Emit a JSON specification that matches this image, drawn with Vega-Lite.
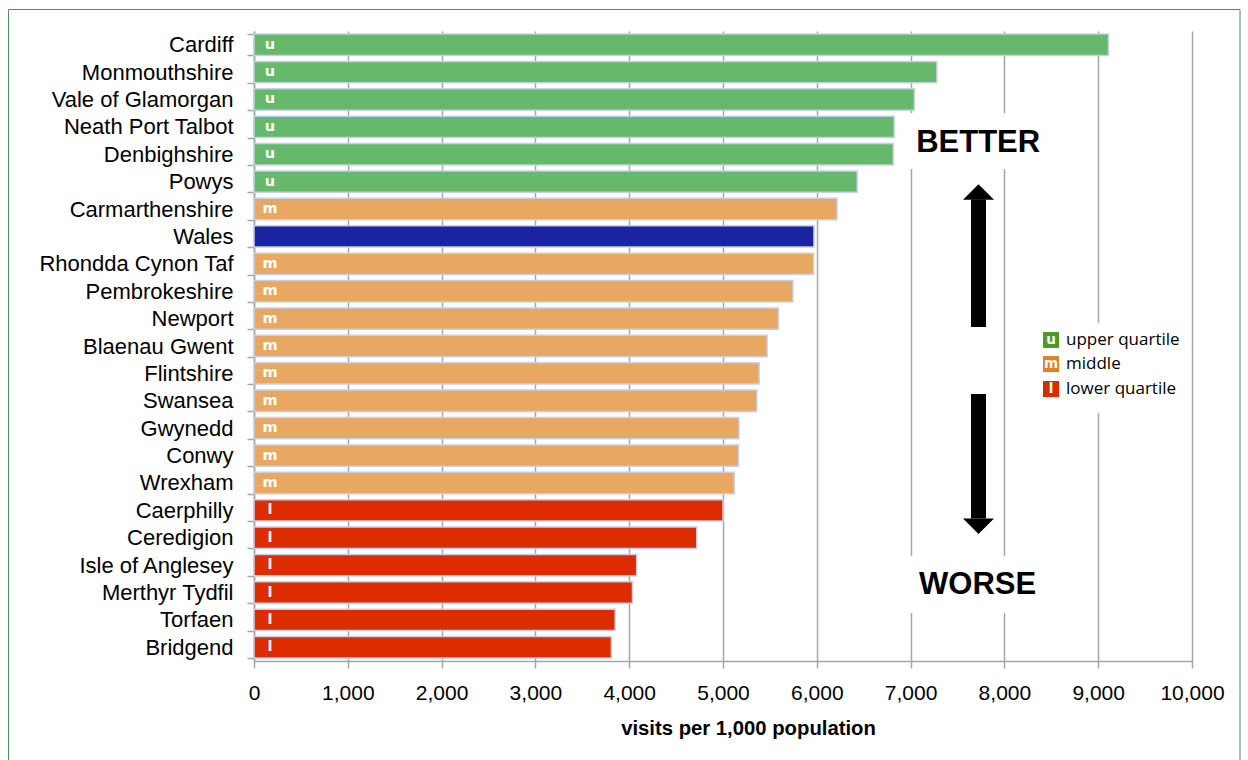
{
  "$schema": "https://vega.github.io/schema/vega-lite/v6.json",
  "width": 938,
  "height": 630,
  "padding": {"left": 8, "top": 8, "right": 0, "bottom": 0},
  "background": "white",
  "config": {
    "font": "Liberation Sans",
    "view": {"stroke": null},
    "axisX": {
      "grid": true,
      "gridColor": "#a6a6a6",
      "gridWidth": 1.5,
      "labelFont": "Liberation Sans",
      "labelFontSize": 21,
      "labelColor": "#000000",
      "labelPadding": 14,
      "labelFlush": false,
      "tickSize": 7,
      "tickColor": "#a6a6a6",
      "tickWidth": 1.5,
      "domainColor": "#a6a6a6",
      "domainWidth": 1.5,
      "titleFont": "Liberation Sans",
      "titleFontSize": 20.3,
      "titleFontWeight": "bold",
      "titleColor": "#000000",
      "titlePadding": 15
    },
    "axisY": {
      "grid": false,
      "labelFont": "Liberation Sans",
      "labelFontSize": 22,
      "labelColor": "#000000",
      "labelPadding": 14,
      "labelLimit": 400,
      "tickSize": 7,
      "tickColor": "#a6a6a6",
      "tickWidth": 1.5,
      "tickBand": "extent",
      "domainColor": "#a6a6a6",
      "domainWidth": 1.5,
      "title": null
    }
  },
  "datasets": {
    "rates": [
      {"area": "Cardiff", "visits": 9110, "q": "u"},
      {"area": "Monmouthshire", "visits": 7280, "q": "u"},
      {"area": "Vale of Glamorgan", "visits": 7040, "q": "u"},
      {"area": "Neath Port Talbot", "visits": 6825, "q": "u"},
      {"area": "Denbighshire", "visits": 6815, "q": "u"},
      {"area": "Powys", "visits": 6430, "q": "u"},
      {"area": "Carmarthenshire", "visits": 6215, "q": "m"},
      {"area": "Wales", "visits": 5970, "q": "w"},
      {"area": "Rhondda Cynon Taf", "visits": 5965, "q": "m"},
      {"area": "Pembrokeshire", "visits": 5745, "q": "m"},
      {"area": "Newport", "visits": 5590, "q": "m"},
      {"area": "Blaenau Gwent", "visits": 5470, "q": "m"},
      {"area": "Flintshire", "visits": 5385, "q": "m"},
      {"area": "Swansea", "visits": 5360, "q": "m"},
      {"area": "Gwynedd", "visits": 5170, "q": "m"},
      {"area": "Conwy", "visits": 5165, "q": "m"},
      {"area": "Wrexham", "visits": 5120, "q": "m"},
      {"area": "Caerphilly", "visits": 5000, "q": "l"},
      {"area": "Ceredigion", "visits": 4720, "q": "l"},
      {"area": "Isle of Anglesey", "visits": 4080, "q": "l"},
      {"area": "Merthyr Tydfil", "visits": 4035, "q": "l"},
      {"area": "Torfaen", "visits": 3850, "q": "l"},
      {"area": "Bridgend", "visits": 3810, "q": "l"}
    ],
    "frame": [{"x0": -2617, "x1": 10512, "y0": -0.785, "y1": 27.6}],
    "clearings": [
      {"x0": 6900, "x1": 8600, "y0": 3.0, "y1": 5.04},
      {"x0": 6900, "x1": 8600, "y0": 19.17, "y1": 21.25},
      {"x0": 8380, "x1": 9925, "y0": 10.66, "y1": 13.95}
    ],
    "shafts": [
      {"x": 7724, "y0": 6.15, "y1": 10.81},
      {"x": 7724, "y0": 13.25, "y1": 17.8}
    ],
    "heads": [
      {"x": 7724, "y": 5.88, "dir": "up"},
      {"x": 7724, "y": 18.08, "dir": "down"}
    ],
    "words": [
      {"word": "BETTER", "x": 7720, "y": 4.08},
      {"word": "WORSE", "x": 7715, "y": 20.23}
    ],
    "key": [
      {"q": "u", "label": "upper quartile", "y": 11.28},
      {"q": "m", "label": "middle", "y": 12.16},
      {"q": "l", "label": "lower quartile", "y": 13.07}
    ]
  },
  "layer": [
    {
      "data": {"name": "rates"},
      "layer": [
        {
          "mark": {"type": "bar", "stroke": "#c5cfe8", "strokeWidth": 1.5},
          "encoding": {
            "y": {"field": "area", "type": "nominal", "sort": null,
                  "scale": {"paddingInner": 0.22, "paddingOuter": 0.11}},
            "x": {"field": "visits", "type": "quantitative",
                  "scale": {"domain": [0, 10000], "nice": false},
                  "title": "visits per 1,000 population",
                  "axis": {"values": [0, 1000, 2000, 3000, 4000, 5000, 6000, 7000, 8000, 9000, 10000],
                           "format": ",d", "titleX": 494}},
            "color": {"field": "q", "type": "nominal", "legend": null,
                      "scale": {"domain": ["u", "m", "w", "l"],
                                "range": ["#66b96a", "#e8a862", "#1a24a0", "#dd2c00"]}}
          }
        },
        {
          "transform": [{"filter": "datum.q !== 'w'"}],
          "mark": {"type": "text", "font": "DejaVu Sans", "fontWeight": "bold",
                   "fontSize": 14.5, "color": "#ffffff", "align": "center",
                   "baseline": "middle", "dx": 16},
          "encoding": {
            "y": {"field": "area", "type": "nominal", "sort": null},
            "x": {"datum": 0, "type": "quantitative",
                  "scale": {"domain": [0, 10000], "nice": false},
                  "title": "visits per 1,000 population"},
            "text": {"field": "q"}
          }
        }
      ]
    },
    {
      "layer": [
        {
          "data": {"name": "frame"},
          "mark": {"type": "rect", "fill": null, "stroke": "#4f8f55", "strokeWidth": 1},
          "encoding": {
            "x": {"field": "x0", "type": "quantitative",
                  "scale": {"domain": [0, 10000], "nice": false},
                  "title": "visits per 1,000 population"},
            "x2": {"field": "x1"},
            "y": {"field": "y0", "type": "quantitative", "axis": null,
                  "scale": {"domain": [0, 23], "reverse": true, "nice": false, "zero": false}},
            "y2": {"field": "y1"}
          }
        },
        {
          "data": {"name": "clearings"},
          "mark": {"type": "rect", "fill": "#ffffff"},
          "encoding": {
            "x": {"field": "x0", "type": "quantitative",
                  "scale": {"domain": [0, 10000], "nice": false},
                  "title": "visits per 1,000 population"},
            "x2": {"field": "x1"},
            "y": {"field": "y0", "type": "quantitative", "axis": null,
                  "scale": {"domain": [0, 23], "reverse": true, "nice": false, "zero": false}},
            "y2": {"field": "y1"}
          }
        },
        {
          "data": {"name": "shafts"},
          "mark": {"type": "rule", "color": "#000000", "strokeWidth": 15, "strokeCap": "butt"},
          "encoding": {
            "x": {"field": "x", "type": "quantitative",
                  "scale": {"domain": [0, 10000], "nice": false},
                  "title": "visits per 1,000 population"},
            "y": {"field": "y0", "type": "quantitative", "axis": null,
                  "scale": {"domain": [0, 23], "reverse": true, "nice": false, "zero": false}},
            "y2": {"field": "y1"}
          }
        },
        {
          "data": {"name": "heads"},
          "mark": {"type": "point", "filled": true, "fill": "#000000", "opacity": 1,
                   "strokeWidth": 0, "size": 961},
          "encoding": {
            "x": {"field": "x", "type": "quantitative",
                  "scale": {"domain": [0, 10000], "nice": false},
                  "title": "visits per 1,000 population"},
            "y": {"field": "y", "type": "quantitative", "axis": null,
                  "scale": {"domain": [0, 23], "reverse": true, "nice": false, "zero": false}},
            "shape": {"field": "dir", "type": "nominal", "legend": null,
                      "scale": {"domain": ["up", "down"],
                                "range": ["M-1,0.5L0,-0.5L1,0.5Z", "M-1,-0.5L0,0.5L1,-0.5Z"]}}
          }
        },
        {
          "data": {"name": "words"},
          "mark": {"type": "text", "font": "Liberation Sans", "fontWeight": "bold",
                   "fontSize": 31, "color": "#000000", "align": "center", "baseline": "middle"},
          "encoding": {
            "x": {"field": "x", "type": "quantitative",
                  "scale": {"domain": [0, 10000], "nice": false},
                  "title": "visits per 1,000 population"},
            "y": {"field": "y", "type": "quantitative", "axis": null,
                  "scale": {"domain": [0, 23], "reverse": true, "nice": false, "zero": false}},
            "text": {"field": "word"}
          }
        },
        {
          "data": {"name": "key"},
          "mark": {"type": "point", "shape": "square", "filled": true, "opacity": 1,
                   "strokeWidth": 0, "size": 256},
          "encoding": {
            "x": {"datum": 8497, "type": "quantitative",
                  "scale": {"domain": [0, 10000], "nice": false},
                  "title": "visits per 1,000 population"},
            "y": {"field": "y", "type": "quantitative", "axis": null,
                  "scale": {"domain": [0, 23], "reverse": true, "nice": false, "zero": false}},
            "color": {"field": "q", "type": "nominal", "legend": null,
                      "scale": {"domain": ["u", "m", "l"],
                                "range": ["#4c9a2a", "#e67e22", "#dc2a00"]}}
          }
        },
        {
          "data": {"name": "key"},
          "mark": {"type": "text", "font": "DejaVu Sans", "fontWeight": "bold",
                   "fontSize": 13.5, "color": "#ffffff", "align": "center", "baseline": "middle"},
          "encoding": {
            "x": {"datum": 8497, "type": "quantitative",
                  "scale": {"domain": [0, 10000], "nice": false},
                  "title": "visits per 1,000 population"},
            "y": {"field": "y", "type": "quantitative", "axis": null,
                  "scale": {"domain": [0, 23], "reverse": true, "nice": false, "zero": false}},
            "text": {"field": "q"}
          }
        },
        {
          "data": {"name": "key"},
          "mark": {"type": "text", "font": "Open Sans", "fontSize": 17,
                   "color": "#000000", "align": "left", "baseline": "middle"},
          "encoding": {
            "x": {"datum": 8657, "type": "quantitative",
                  "scale": {"domain": [0, 10000], "nice": false},
                  "title": "visits per 1,000 population"},
            "y": {"field": "y", "type": "quantitative", "axis": null,
                  "scale": {"domain": [0, 23], "reverse": true, "nice": false, "zero": false}},
            "text": {"field": "label"}
          }
        }
      ]
    }
  ],
  "resolve": {"scale": {"y": "independent", "color": "independent"}}
}
